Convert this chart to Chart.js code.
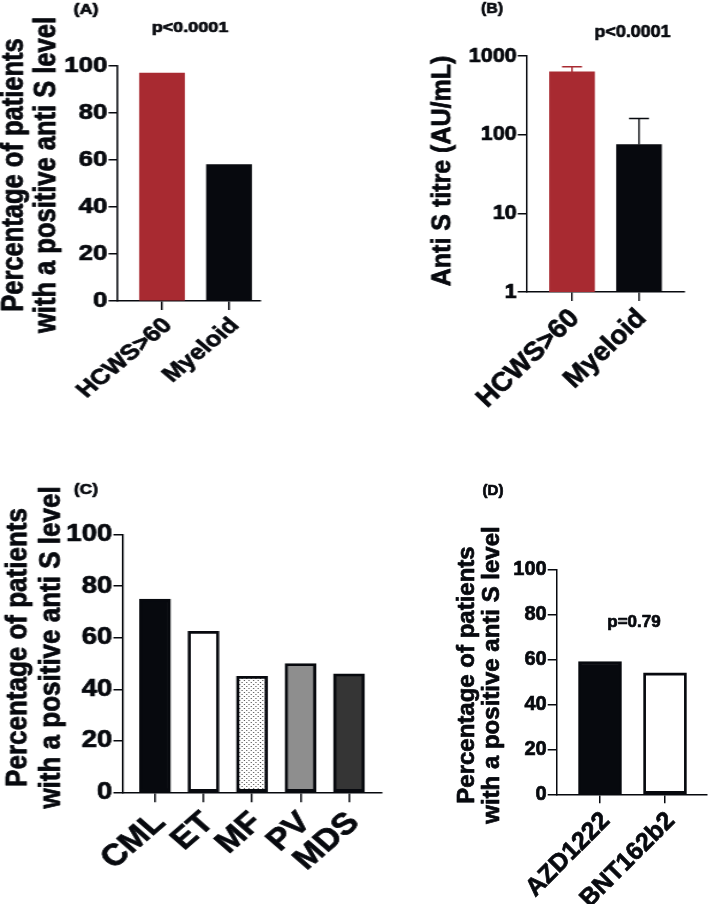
<!DOCTYPE html>
<html>
<head>
<meta charset="utf-8">
<script src="https://cdn.jsdelivr.net/npm/chart.js@4.4.1/dist/chart.umd.min.js"></script>
<style>
    html, body { margin: 0; padding: 0; background: #fff; }
    #figure { position: relative; width: 709px; height: 914px; overflow: hidden; }
    .panel { position: absolute; transform-origin: 0 0; }
    .panel canvas { display: block; }
</style>
</head>
<body>
<div id="figure"></div>
<script>
// Panel A - percentage with positive anti S
var groupsA = ["HCWS>60", "Myeloid"];
var percentA = [97, 58];

// Panel B - anti S titre, log scale, mean with upper error
var groupsB = ["HCWS>60", "Myeloid"];
var titreB = [627, 75];
var titreUpperB = [731, 161];
var titreTicksB = [1, 10, 100, 1000];

// Panel C - by diagnosis
var diagnosisC = ["CML", "ET", "MF", "PV", "MDS"];
var percentC = [75, 62.5, 45, 50, 46];

// Panel D - by vaccine
var vaccineD = ["AZD1222", "BNT162b2"];
var percentD = [59, 54];

var percentTicks = [0, 20, 40, 60, 80, 100];

var FONT = "'Liberation Sans', Arial, Helvetica, sans-serif";
var INK = "#07090e";
var RED = "#a82a31";
var HEAVY = 0.7;

function dotPattern()
{
    var c = document.createElement("canvas");
    c.width = 4;
    c.height = 4;
    var g = c.getContext("2d");
    g.fillStyle = "#ffffff";
    g.fillRect(0, 0, 4, 4);
    g.fillStyle = "#555555";
    g.fillRect(0, 0, 1, 1);
    g.fillRect(2, 2, 1, 1);
    return g.createPattern(c, "repeat");
}

// Free text (panel letters, p values, axis titles) in page coordinates
function textPlugin(p)
{
    return {
        id: "panelText",
        afterDraw: function (chart)
        {
            var ctx = chart.ctx;
            p.texts.forEach(function (t)
            {
                ctx.save();
                ctx.fillStyle = INK;
                ctx.strokeStyle = INK;
                ctx.lineWidth = HEAVY;
                ctx.lineJoin = "round";
                ctx.font = "bold " + t.size + "px " + FONT;
                ctx.textAlign = "center";
                ctx.textBaseline = "middle";
                ctx.translate((t.x - p.left) / p.stretch, t.y - p.top);
                if (t.vertical)
                {
                    ctx.rotate(-Math.PI / 2);
                }
                t.lines.forEach(function (line, i)
                {
                    var off = i * (t.gap || 0) / p.stretch;
                    ctx.strokeText(line, 0, off);
                    ctx.fillText(line, 0, off);
                });
                ctx.restore();
            });
        }
    };
}

function errorBarPlugin(p)
{
    return {
        id: "errorBars",
        afterDatasetsDraw: function (chart)
        {
            if (!p.upper)
            {
                return;
            }
            var ctx = chart.ctx;
            var y = chart.scales.y;
            chart.getDatasetMeta(0).data.forEach(function (bar, i)
            {
                var top = y.getPixelForValue(p.upper[i]);
                var half = p.cap / 2 / p.stretch;
                ctx.save();
                ctx.strokeStyle = p.fills[i];
                ctx.lineWidth = 1.5;
                ctx.beginPath();
                ctx.moveTo(bar.x, bar.y);
                ctx.lineTo(bar.x, top);
                ctx.moveTo(bar.x - half, top);
                ctx.lineTo(bar.x + half, top);
                ctx.stroke();
                ctx.restore();
            });
        }
    };
}

function buildPanel(p)
{
    var s = p.stretch;
    var wrap = document.createElement("div");
    wrap.className = "panel";
    wrap.style.left = p.left + "px";
    wrap.style.top = p.top + "px";
    wrap.style.transform = "scaleX(" + s + ")";

    var canvas = document.createElement("canvas");
    var w = Math.round((p.right - p.left) / s);
    canvas.width = w;
    canvas.height = p.height;
    wrap.appendChild(canvas);
    document.getElementById("figure").appendChild(wrap);

    function cx(x) { return (x - p.left) / s; }

    var n = p.labels.length;
    var unit = (cx(p.lastTick) - cx(p.firstTick)) / (n - 1);
    var xMin = (cx(p.axisLeft) - cx(p.firstTick)) / unit;
    var xMax = n - 1 + (cx(p.axisRight) - cx(p.lastTick)) / unit;
    var bottomPad = 10;
    var xAxisHeight = p.height - (p.axisBottom - p.top) - bottomPad;

    function noPadding(sc)
    {
        sc.paddingLeft = 0;
        sc.paddingRight = 0;
        sc.paddingTop = 0;
        sc.paddingBottom = 0;
    }

    new Chart(canvas, {
        type:    "bar",
        data:    {
            datasets: [
                {
                    data:            p.values.map(function (v, i) { return {x: i, y: v}; }),
                    backgroundColor: p.fills,
                    borderColor:     INK,
                    borderWidth:     p.border,
                    borderSkipped:   false,
                    barThickness:    p.barWidth / s
                }
            ]
        },
        options: {
            responsive:       false,
            animation:        false,
            devicePixelRatio: 1,
            layout:           {
                autoPadding: false,
                padding:     {left: 0, top: p.axisTop - p.top, right: w - cx(p.axisRight), bottom: bottomPad}
            },
            plugins:          {
                legend:  {display: false},
                tooltip: {enabled: false}
            },
            scales:           {
                x: {
                    type:            "linear",
                    min:             xMin,
                    max:             xMax,
                    offset:          false,
                    afterBuildTicks: function (sc)
                    {
                        sc.ticks = p.labels.map(function (c, i) { return {value: i}; });
                    },
                    afterFit:        function (sc)
                    {
                        sc.height = xAxisHeight;
                        noPadding(sc);
                    },
                    ticks:           {
                        autoSkip:        false,
                        minRotation:     45,
                        maxRotation:     45,
                        padding:         p.xLabelPad,
                        labelOffset:     p.xLabelShift / s,
                        color:           INK,
                        textStrokeColor: INK,
                        textStrokeWidth: HEAVY,
                        font:            {family: FONT, weight: "bold", size: p.xLabelSize},
                        callback:        function (v) { return p.labels[v]; }
                    },
                    grid:            {offset: false, drawOnChartArea: false, tickLength: p.xTickLen, color: INK, lineWidth: 1.5},
                    border:          {display: true, color: INK, width: 1.5}
                },
                y: {
                    type:            p.log ? "logarithmic" : "linear",
                    min:             p.yTicks[0],
                    max:             p.yTicks[p.yTicks.length - 1],
                    afterBuildTicks: function (sc)
                    {
                        sc.ticks = p.yTicks.map(function (v) { return {value: v}; });
                    },
                    afterFit:        function (sc)
                    {
                        sc.width = cx(p.axisLeft);
                        noPadding(sc);
                    },
                    ticks:           {
                        padding:         1,
                        color:           INK,
                        textStrokeColor: INK,
                        textStrokeWidth: HEAVY,
                        font:            {family: FONT, weight: "bold", size: p.yLabelSize},
                        callback:        function (v) { return String(v); }
                    },
                    grid:            {drawOnChartArea: false, tickLength: p.yTickLen / s, color: INK, lineWidth: 1.5},
                    border:          {display: true, color: INK, width: 1.5}
                }
            }
        },
        plugins: [errorBarPlugin(p), textPlugin(p)]
    });
}

var yTitle = ["Percentage of patients", "with a positive anti S level"];

buildPanel({
    left: 0, top: 0, right: 360, height: 440, stretch: 1.2,
    axisLeft: 117, axisRight: 260, firstTick: 162, lastTick: 229, axisTop: 66, axisBottom: 301,
    labels: groupsA, values: percentA, yTicks: percentTicks, log: false,
    fills: [RED, INK], border: 0, barWidth: 45,
    yLabelSize: 21.5, xLabelSize: 21.5, xLabelPad: 3, xLabelShift: 6, yTickLen: 8.5, xTickLen: 9,
    texts: [
        {lines: ["(A)"], x: 86, y: 10, size: 15},
        {lines: ["p<0.0001"], x: 190, y: 28, size: 15},
        {lines: yTitle, x: 14, y: 175, size: 25.5, vertical: true, gap: 33}
    ]
});

buildPanel({
    left: 360, top: 0, right: 709, height: 440, stretch: 1.05,
    axisLeft: 526.7, axisRight: 684, firstTick: 572, lastTick: 639, axisTop: 56, axisBottom: 292,
    labels: groupsB, values: titreB, upper: titreUpperB, cap: 20, yTicks: titreTicksB, log: true,
    fills: [RED, INK], border: 0, barWidth: 45,
    yLabelSize: 20.5, xLabelSize: 26.5, xLabelPad: 2, xLabelShift: 3, yTickLen: 9, xTickLen: 9,
    texts: [
        {lines: ["(B)"], x: 492, y: 9, size: 15},
        {lines: ["p<0.0001"], x: 632.5, y: 32, size: 17},
        {lines: ["Anti S titre (AU/mL)"], x: 443, y: 171, size: 25, vertical: true}
    ]
});

buildPanel({
    left: 0, top: 440, right: 400, height: 474, stretch: 1.15,
    axisLeft: 122.7, axisRight: 381, firstTick: 155, lastTick: 349, axisTop: 534.7, axisBottom: 792.3,
    labels: diagnosisC, values: percentC, yTicks: percentTicks, log: false,
    fills: [INK, "#ffffff", dotPattern(), "#8e8e8e", "#353535"], border: 2.8, barWidth: 31,
    yLabelSize: 24, xLabelSize: 30, xLabelPad: 3, xLabelShift: 5, yTickLen: 9.3, xTickLen: 10,
    texts: [
        {lines: ["(C)"], x: 86, y: 490, size: 15},
        {lines: yTitle, x: 18, y: 647.5, size: 26, vertical: true, gap: 33}
    ]
});

buildPanel({
    left: 400, top: 440, right: 709, height: 474, stretch: 1.0,
    axisLeft: 556.7, axisRight: 707, firstTick: 600, lastTick: 665, axisTop: 569.5, axisBottom: 794.3,
    labels: vaccineD, values: percentD, yTicks: percentTicks, log: false,
    fills: [INK, "#ffffff"], border: 2.8, barWidth: 43,
    yLabelSize: 20, xLabelSize: 25, xLabelPad: 3, xLabelShift: 6, yTickLen: 9, xTickLen: 9,
    texts: [
        {lines: ["(D)"], x: 493, y: 491, size: 15},
        {lines: ["p=0.79"], x: 634, y: 622, size: 17},
        {lines: yTitle, x: 467, y: 675, size: 24, vertical: true, gap: 25}
    ]
});
</script>
</body>
</html>
